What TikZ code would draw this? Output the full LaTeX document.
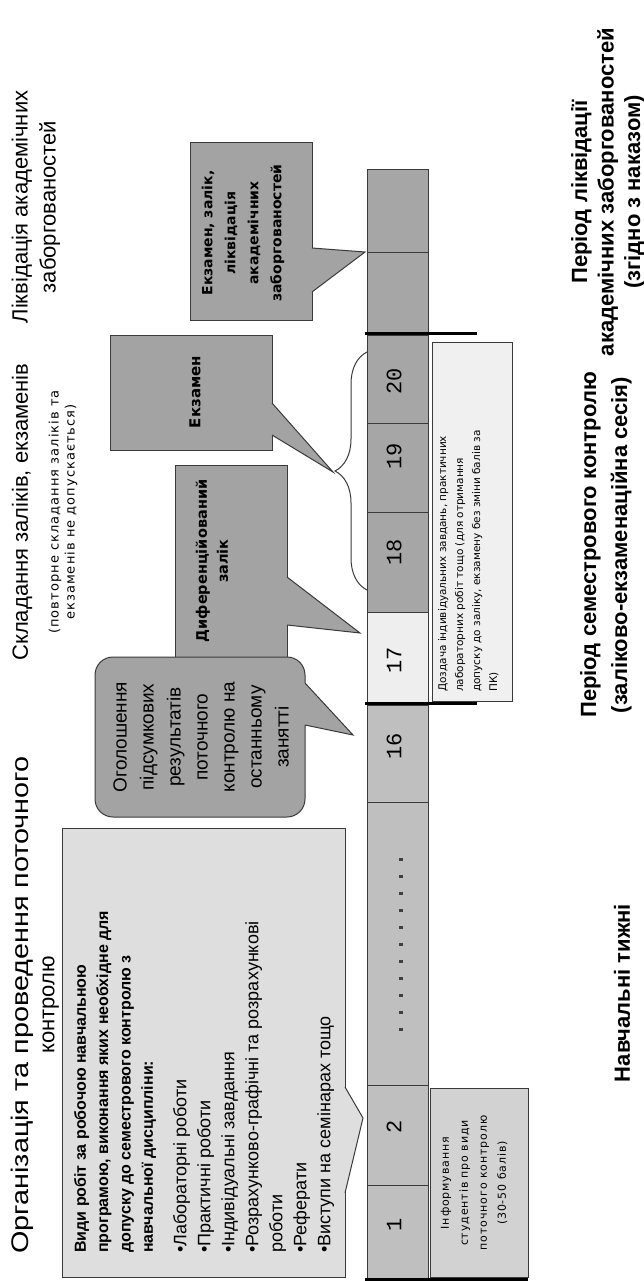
\documentclass[tikz,border=0pt]{standalone}
\usepackage{fontspec}
\setmainfont{Liberation Sans}
\newfontfamily\djv{DejaVu Sans}
\newfontfamily\djvw[LetterSpace=8]{DejaVu Sans}
\newfontfamily\mnf{Liberation Mono}
\usetikzlibrary{decorations.pathreplacing}
\definecolor{barA}{HTML}{BFBFBF}
\definecolor{barB}{HTML}{A6A6A6}
\definecolor{barL}{HTML}{EEEEEE}
\definecolor{boxA}{HTML}{DEDEDE}
\definecolor{boxB}{HTML}{D2D2D2}
\definecolor{boxC}{HTML}{F0F0F0}
\definecolor{callC}{HTML}{A3A3A3}
\definecolor{edgeC}{HTML}{3A3A3A}
\begin{document}
\begin{tikzpicture}[x=1pt,y=-1pt,
  cellbox/.style={draw=edgeC, line width=1pt},
  rot/.style={rotate=90, inner sep=0pt},
  numtxt/.style={rot, font=\mnf\fontsize{22}{22}\selectfont},
  titletxt/.style={rot, align=center, font=\fontsize{22}{28}\selectfont},
  labeltxt/.style={rot, align=center, font=\bfseries\fontsize{22}{27}\selectfont},
  calltxt/.style={rot, align=center, font=\djv\bfseries\fontsize{14}{22}\selectfont},
  smalltxt/.style={rot, font=\djv\fontsize{10.5}{17}\selectfont},
  callfill/.style={fill=callC, draw=edgeC, line width=1pt},
  ptrline/.style={draw=edgeC, line width=1pt, line join=miter},
  thickline/.style={line width=3pt, black},
]
\useasboundingbox (0,0) rectangle (644,1281);
\fill[white] (0,0) rectangle (644,1281);

% ---------- titles ----------
\node[titletxt, font=\fontsize{22}{26}\selectfont] (t1) at (35,1005) {\scalebox{1.2}[1]{\fontsize{24}{26}\selectfont Організація та проведення поточного}\\контролю};
\node[titletxt] (t2) at (22,512) {Складання заліків, екзаменів};
\node[rot, align=center, font=\djvw\fontsize{13}{16}\selectfont] (t2s) at (63,512) {(повторне складання заліків та\\екзаменів не допускається)};
\node[titletxt] (t3) at (36,207) {Ліквідація академічних\\заборгованостей};

% ---------- bottom labels ----------
\node[labeltxt] (l1) at (622,993) {Навчальні тижні};
\node[labeltxt, font=\bfseries\fontsize{22}{31}\selectfont] (l2) at (606,545) {Період семестрового контролю\\(заліково-екзаменаційна сесія)};
\node[labeltxt, font=\bfseries\fontsize{22}{26.5}\selectfont] (l3) at (608,192) {Період ліквідації\\академічних заборгованостей\\(згідно з наказом)};

% ---------- week bar ----------
\draw[cellbox, fill=barA] (367,802) rectangle (428,1085);
\draw[cellbox, fill=barA] (367,1185) rectangle (428,1279);
\draw[cellbox, fill=barA] (367,1085) rectangle (428,1185);
\draw[cellbox, fill=barA] (367,705) rectangle (428,802);
\draw[cellbox, fill=barL] (367,612) rectangle (428,705);
\draw[cellbox, fill=barB] (367,512) rectangle (428,612);
\draw[cellbox, fill=barB] (367,423) rectangle (428,512);
\draw[cellbox, fill=barB] (367,335) rectangle (428,423);
\draw[cellbox, fill=barB] (367,252) rectangle (428,335);
\draw[cellbox, fill=barB] (367,170) rectangle (428,252);
\node[numtxt] (n1) at (394,1225) {1};
\node[numtxt] (n2) at (394,1127) {2};
\node[numtxt] (n16) at (394,746) {16};
\node[numtxt] (n17) at (394,660) {17};
\node[numtxt] (n18) at (394,552) {18};
\node[numtxt] (n19) at (394,456) {19};
\node[numtxt] (n20) at (394,381) {20};
\foreach \k in {0,...,10} \fill[black!75] (399,{858+17*\k}) rectangle (403,{861+17*\k});

\draw[thickline] (365,333) -- (477,333);
\draw[thickline] (365,703) -- (477,703);
\draw[thickline] (365,1279) -- (528,1279);

% brace over 18-20
\draw[edgeC, line width=1pt, decorate, decoration={brace, amplitude=32pt}] (367,590) -- (367,352);

% ---------- boxes under the bar ----------
\draw[cellbox, fill=boxB] (430,1088) rectangle (528,1277);
\node[rot, align=center, font=\djvw\fontsize{11}{19}\selectfont] (inf) at (474,1183) {Інформування\\студентів про види\\поточного контролю\\(30-50 балів)};
\draw[cellbox, fill=boxC] (432,342) rectangle (512,701);
\node[smalltxt, align=left, anchor=north west] (dozd) at (438,692) {Доздача індивідуальних завдань, практичних\\лабораторних робіт тощо (для отримання\\допуску до заліку, екзамену без зміни балів за\\ПК)};

% ---------- big box ----------
\draw[cellbox, fill=boxA] (62,828) rectangle (345,1277);
\coordinate (pb) at (363,1118);
\fill[boxA] (340,1087) -- (345,1087) -- (pb) -- (345,1193) -- (340,1193) -- cycle;
\draw[ptrline] (345,1087) -- (pb) -- (345,1193);
\node[rot, anchor=north west, align=left, font=\bfseries\fontsize{16}{22.3}\selectfont] (hdr) at (74,1253) {Види робіт за робочою навчальною\\програмою, виконання яких необхідне для\\допуску до семестрового контролю з\\навчальної дисципліни:};
\node[rot, anchor=north west, align=left, font=\fontsize{18}{24}\selectfont] (bul) at (173,1253) {•Лабораторні роботи\\•Практичні роботи\\•Індивідуальні завдання\\•Розрахунково-графічні та розрахункові\\роботи\\•Реферати\\•Виступи на семінарах тощо};

% ---------- callout 2: Диференційований залік ----------
\draw[callfill] (175,465) rectangle (287,657);
\coordinate (p17) at (360,633);
\fill[callC] (282,577) -- (287,577) -- (p17) -- (287,625) -- (282,625) -- cycle;
\draw[ptrline] (287,577) -- (p17) -- (287,625);
\node[calltxt, font=\djv\bfseries\fontsize{14.5}{21}\selectfont] (dz) at (212,561) {Диференційований\\залік};

% ---------- callout 1: rounded ----------
\draw[callfill, rounded corners=18pt] (95,657) rectangle (305,817);
\coordinate (p16) at (353,735);
\fill[callC] (300,683) -- (305,683) -- (p16) -- (305,725) -- (300,725) -- cycle;
\draw[ptrline] (305,683) -- (p16) -- (305,725);
\node[rot, align=center, font=\fontsize{19}{27}\selectfont] (og) at (201,737) {Оголошення\\підсумкових\\результатів\\поточного\\контролю на\\останньому\\занятті};

% ---------- callout 3: Екзамен ----------
\draw[callfill] (110,335) rectangle (272,450);
\coordinate (pbr) at (333,472);
\fill[callC] (267,403) -- (272,403) -- (pbr) -- (272,435) -- (267,435) -- cycle;
\draw[ptrline] (272,403) -- (pbr) -- (272,435);
\node[calltxt, font=\djv\bfseries\fontsize{15}{21}\selectfont] (ek) at (195,392) {Екзамен};

% ---------- callout 4 ----------
\draw[callfill] (190,143) rectangle (312,320);
\coordinate (pl) at (365,252);
\fill[callC] (307,248) -- (312,248) -- (pl) -- (312,292) -- (307,292) -- cycle;
\draw[ptrline] (312,248) -- (pl) -- (312,292);
\node[calltxt, font=\djv\bfseries\fontsize{14}{23}\selectfont] (lk) at (243,233) {Екзамен, залік,\\ліквідація\\академічних\\заборгованостей};
\end{tikzpicture}
\end{document}
